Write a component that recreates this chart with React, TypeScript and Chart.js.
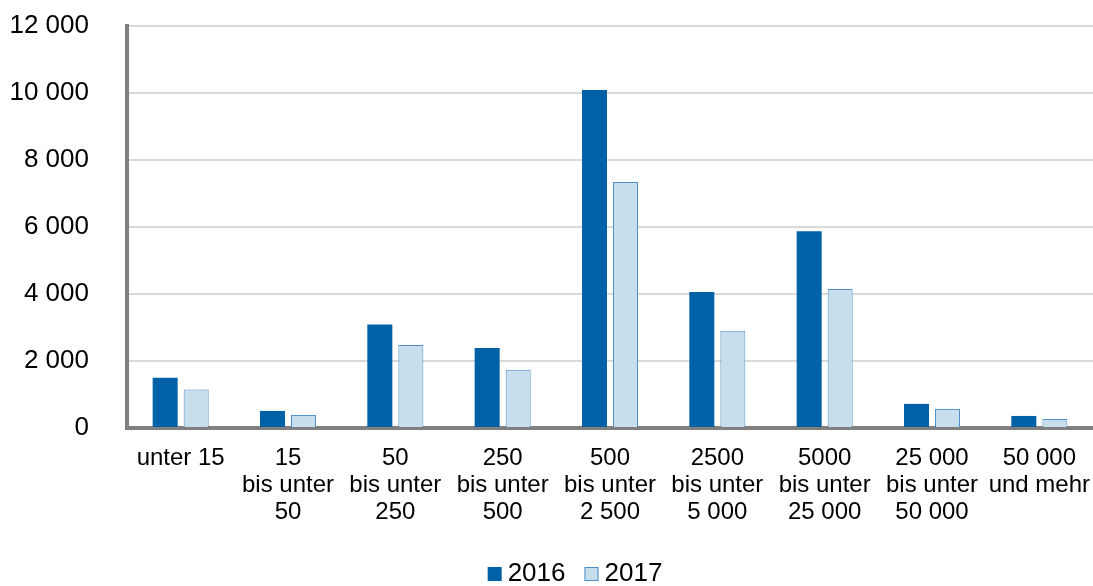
import React, { useEffect, useRef } from "react";
import { Chart, registerables } from "chart.js";

Chart.register(...registerables);

const categories: string[][] = [
  ["unter 15"],
  ["15", "bis unter", "50"],
  ["50", "bis unter", "250"],
  ["250", "bis unter", "500"],
  ["500", "bis unter", "2 500"],
  ["2500", "bis unter", "5 000"],
  ["5000", "bis unter", "25 000"],
  ["25 000", "bis unter", "50 000"],
  ["50 000", "und mehr"],
];

const values2016 = [1500, 510, 3090, 2390, 10090, 4060, 5870, 720, 360];
const values2017 = [1150, 390, 2480, 1740, 7340, 2900, 4150, 570, 270];

const seriesLabels = ["2016", "2017"];
const yMax = 12000;
const yStep = 2000;

const FONT = "'Liberation Sans', Arial, sans-serif";

const legendPlugin = {
  id: "customLegend",
  afterDraw(chart: any) {
    const ctx = chart.ctx;
    ctx.save();
    ctx.font = `26px ${FONT}`;
    ctx.textBaseline = "middle";
    ctx.textAlign = "left";
    const box = 14;
    const gap = 6;
    const spacing = 19;
    const items = chart.data.datasets.map((ds: any) => ({
      text: ds.label,
      fill: ds.backgroundColor,
      stroke: ds.borderColor,
      bw: ds.borderWidth,
      w: ctx.measureText(ds.label).width,
    }));
    let total = 0;
    items.forEach((it: any, i: number) => {
      total += box + gap + it.w + (i < items.length - 1 ? spacing : 0);
    });
    const centerX = 575;
    const cy = 574;
    let x = centerX - total / 2;
    items.forEach((it: any) => {
      ctx.fillStyle = it.fill;
      ctx.fillRect(x, cy - box / 2, box, box);
      if (it.bw > 0) {
        ctx.strokeStyle = it.stroke;
        ctx.lineWidth = 1;
        ctx.strokeRect(x + 0.5, cy - box / 2 + 0.5, box - 1, box - 1);
      }
      ctx.fillStyle = "#000";
      ctx.fillText(it.text, x + box + gap, cy);
      x += box + gap + it.w + spacing;
    });
    ctx.restore();
  },
};

export default function App() {
  const ref = useRef<HTMLCanvasElement | null>(null);

  useEffect(() => {
    const ctx = ref.current;
    if (!ctx) return;
    const chart = new Chart(ctx, {
      type: "bar",
      data: {
        labels: categories,
        datasets: [
          {
            label: seriesLabels[0],
            data: values2016,
            backgroundColor: "#0061a7",
            borderColor: "#0061a7",
            borderWidth: 0,
          },
          {
            label: seriesLabels[1],
            data: values2017,
            backgroundColor: "#c7deed",
            borderColor: "#4f90c8",
            borderWidth: 1,
          },
        ],
      },
      plugins: [legendPlugin],
      options: {
        animation: false,
        responsive: false,
        maintainAspectRatio: false,
        layout: { padding: { top: 26, right: 0, bottom: 0, left: 0 } },
        datasets: {
          bar: { categoryPercentage: 0.578, barPercentage: 0.806 },
        },
        plugins: {
          tooltip: { enabled: false },
          legend: { display: false },
        },
        scales: {
          x: {
            grid: { display: false, drawTicks: false },
            border: { display: true, color: "#808080", width: 4 },
            ticks: {
              color: "#000",
              font: { family: FONT, size: 24, lineHeight: 1.125 },
              padding: 17,
              maxRotation: 0,
              autoSkip: false,
            },
            afterFit: (scale: any) => {
              scale.height = 158;
              scale.paddingLeft = 0;
              scale.paddingRight = 0;
            },
          },
          y: {
            min: 0,
            max: yMax,
            grid: { color: "#d9d9d9", lineWidth: 2, drawTicks: false },
            border: { display: true, color: "#808080", width: 4 },
            ticks: {
              stepSize: yStep,
              color: "#000",
              font: { family: FONT, size: 26 },
              padding: 38,
              callback: (v: any) =>
                Number(v)
                  .toString()
                  .replace(/\B(?=(\d{3})+(?!\d))/g, " "),
            },
            afterFit: (scale: any) => {
              scale.width = 127;
              scale.paddingTop = 0;
              scale.paddingBottom = 0;
            },
          },
        },
      },
    });
    return () => chart.destroy();
  }, []);

  return (
    <div style={{ position: "absolute", left: 0, top: 0, width: 1093, height: 586, background: "#fff" }}>
      <canvas ref={ref} width={1093} height={586} style={{ width: 1093, height: 586 }} />
    </div>
  );
}
